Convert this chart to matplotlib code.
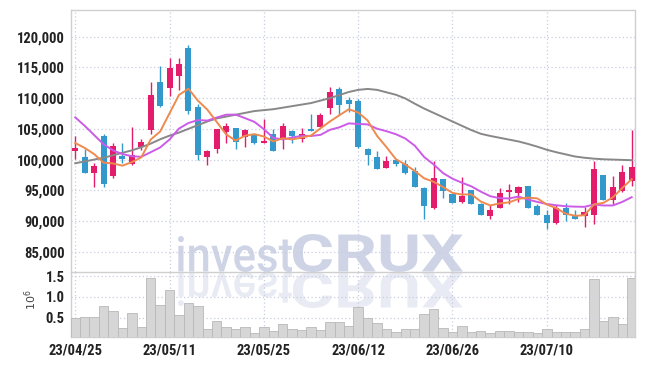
import matplotlib
matplotlib.use("Agg")
import matplotlib.pyplot as plt
from matplotlib.textpath import TextPath
from matplotlib.patches import PathPatch
from matplotlib.font_manager import FontProperties
from matplotlib.transforms import Affine2D, IdentityTransform
from matplotlib.ticker import FuncFormatter

# trading days 2023/04/25 - 2023/07/21
dates = ["23/04/25", "23/04/26", "23/04/27", "23/04/28", "23/05/02", "23/05/03", "23/05/04", "23/05/08",
         "23/05/09", "23/05/10", "23/05/11", "23/05/12", "23/05/15", "23/05/16", "23/05/17", "23/05/18",
         "23/05/19", "23/05/22", "23/05/23", "23/05/24", "23/05/25", "23/05/26", "23/05/30", "23/05/31",
         "23/06/01", "23/06/02", "23/06/05", "23/06/07", "23/06/08", "23/06/09", "23/06/12", "23/06/13",
         "23/06/14", "23/06/15", "23/06/16", "23/06/19", "23/06/20", "23/06/21", "23/06/22", "23/06/23",
         "23/06/26", "23/06/27", "23/06/28", "23/06/29", "23/06/30", "23/07/03", "23/07/04", "23/07/05",
         "23/07/06", "23/07/07", "23/07/10", "23/07/11", "23/07/12", "23/07/13", "23/07/14", "23/07/17",
         "23/07/18", "23/07/19", "23/07/20", "23/07/21"]

opens = [101430, 100400, 97850, 103900, 97350, 100600, 99200, 102100, 104800, 112600,
         111700, 113600, 118150, 108500, 100450, 101750, 104450, 105100, 103600, 104000,
         102700, 104150, 103450, 104700, 103350, 104950, 105350, 108350, 111450, 109700,
         109600, 101700, 100400, 98650, 99900, 99200, 98150, 95400, 92050, 96800,
         94400, 93050, 95000, 92850, 90800, 92150, 94750, 94600, 95700, 92450,
         91050, 89600, 92050, 91050, 90850, 90950, 97500, 93400, 94900, 96550]
highs = [103830, 101800, 99500, 104200, 102650, 102650, 105250, 103300, 112650, 115250,
         116500, 116500, 118650, 109050, 101600, 105000, 105900, 105150, 105000, 104050,
         106550, 105000, 106000, 104800, 105200, 107400, 107600, 111850, 111800, 110150,
         109800, 101950, 101400, 100550, 100050, 99950, 98750, 95500, 99800, 96900,
         94450, 97200, 95100, 92900, 92600, 95300, 95950, 95750, 95750, 92800,
         91750, 92600, 92950, 91750, 92200, 99700, 97550, 97300, 99100, 104800]
lows = [100030, 97800, 95500, 95600, 96950, 99400, 99100, 101550, 104150, 108600,
        110350, 111300, 107500, 99900, 99100, 101100, 102650, 101800, 102100, 102550,
        102650, 101400, 101650, 102650, 102800, 104650, 105300, 107500, 107250, 107800,
        101900, 99100, 98450, 98600, 98950, 97700, 95500, 90250, 91950, 93700,
        92900, 92950, 92700, 91000, 90250, 92100, 92750, 93150, 92100, 91000,
        88650, 89550, 89950, 90350, 88950, 89500, 93350, 92750, 94800, 95700]
closes = [101900, 97850, 98940, 96000, 102200, 100050, 100700, 102850, 110500, 108700,
          114950, 115600, 107950, 100800, 101400, 104900, 105450, 102900, 104800, 102650,
          103000, 101450, 105450, 103850, 104150, 104700, 107250, 111050, 108900, 109050,
          102100, 100750, 98500, 99750, 99200, 97750, 95550, 92500, 96950, 94900,
          93000, 94150, 92750, 91050, 91750, 94600, 95050, 95550, 92150, 91050,
          89600, 92150, 91050, 90400, 91500, 98400, 93400, 95550, 97950, 98750]

# volume in millions
volume = [0.49, 0.52, 0.51, 0.78, 0.66, 0.25, 0.61, 0.27, 1.45, 0.81,
          1.17, 0.56, 0.85, 0.78, 0.23, 0.42, 0.27, 0.23, 0.27, 0.13,
          0.27, 0.18, 0.35, 0.23, 0.20, 0.27, 0.20, 0.40, 0.40, 0.30,
          0.75, 0.49, 0.37, 0.22, 0.16, 0.22, 0.22, 0.59, 0.70, 0.25,
          0.16, 0.29, 0.16, 0.18, 0.13, 0.18, 0.18, 0.16, 0.16, 0.13,
          0.22, 0.16, 0.16, 0.16, 0.22, 1.42, 0.42, 0.51, 0.35, 1.45]

ma5 = [102700, 101900, 100900, 99500, 99380, 99010, 99580, 100360, 103260, 104560,
       107540, 110520, 111540, 109600, 108140, 106130, 104100, 103090, 103890, 104140,
       103760, 102960, 103470, 103280, 103580, 103920, 105080, 106200, 107210, 108190,
       107670, 106370, 103860, 102030, 100060, 99190, 98150, 96950, 96390, 95530,
       94580, 94300, 94350, 93170, 92540, 92860, 93040, 93600, 93820, 93680,
       92680, 92100, 91200, 90850, 90940, 92700, 92950, 93850, 95360, 96810]
ma10 = [106870, 105500, 104000, 102500, 101500, 100900, 100550, 100450, 101200, 101970,
        103270, 105050, 105950, 106430, 106350, 106840, 107310, 107320, 106750, 106140,
        104950, 103530, 103280, 103590, 103860, 103840, 104020, 104840, 105250, 105890,
        105800, 105730, 105030, 104620, 104130, 103430, 102260, 100410, 99210, 97800,
        96890, 96230, 95650, 94780, 94040, 93720, 93670, 93980, 93500, 93110,
        92770, 92570, 92400, 92340, 92310, 92690, 92530, 92530, 93110, 93880]
ma_long = [99400, 99700, 100000, 100300, 100700, 101100, 101500, 102000, 102600, 103300,
           103900, 104400, 105000, 105600, 106200, 106700, 107000, 107300, 107600, 107900,
           108050, 108200, 108450, 108700, 108950, 109200, 109600, 110000, 110500, 111000,
           111350, 111500, 111350, 110950, 110550, 109950, 109100, 108300, 107600, 106900,
           106200, 105500, 104800, 104200, 103850, 103550, 103250, 102950, 102550, 102100,
           101600, 101200, 100850, 100500, 100300, 100150, 100050, 100000, 99950, 99900]

price_ticks = [85000, 90000, 95000, 100000, 105000, 110000, 115000, 120000]
vol_ticks = [0.5, 1.0, 1.5]
label_every = 10

UP = "#e31c6b"
DOWN = "#3399cc"
GRID = "#c9cde0"
FRAME = "#cfcfcf"
TXT = "#222222"
tick_font = ["Roboto Condensed", "Roboto", "DejaVu Sans"]

W, H = 645, 366
fig = plt.figure(figsize=(W / 100, H / 100), dpi=100, facecolor="white")
left, right = 71, 634.5
ax = fig.add_axes([left / W, 1 - 272 / H, (right - left) / W, (272 - 10) / H])
axv = fig.add_axes([left / W, 1 - 337 / H, (right - left) / W, (337 - 272) / H], sharex=ax)
for a in (ax, axv):
    a.set_facecolor("none")

x = list(range(len(dates)))

# candles
for i in x:
    col = UP if closes[i] >= opens[i] else DOWN
    ax.vlines(i, lows[i], highs[i], color=col, lw=1.0, zorder=3)
    lo, hi = min(opens[i], closes[i]), max(opens[i], closes[i])
    ax.bar(i, max(hi - lo, 80), bottom=lo, width=0.64, color=col, zorder=4)

ax.plot(x, ma_long, color="#888888", lw=1.4, zorder=5)
ax.plot(x, ma10, color="#cc5be8", lw=1.4, zorder=5)
ax.plot(x, ma5, color="#ef8a4f", lw=1.4, zorder=6)

ax.set_xlim(-0.45, 59.3)
ax.set_ylim(81700, 124350)
ax.set_yticks(price_ticks)
ax.yaxis.set_major_formatter(FuncFormatter(lambda v, p: f"{v:,.0f}"))

tick_pos = x[::label_every]
ax.set_xticks(tick_pos)
ax.tick_params(axis="x", labelbottom=False, length=0)

axv.bar(x, volume, width=1.0, color="#d6d6d6", edgecolor="#b8b8b8", lw=0.6, zorder=3)
axv.set_ylim(0.03, 1.6)
axv.set_yticks(vol_ticks)
axv.yaxis.set_major_formatter(FuncFormatter(lambda v, p: f"{v:.1f}"))
axv.set_xticklabels([dates[i] for i in tick_pos])

for a in (ax, axv):
    a.grid(True, color=GRID, linestyle=(0, (1, 2)), lw=0.9, zorder=0)
    a.tick_params(axis="y", length=0, pad=4.5, labelsize=10.5, labelcolor=TXT)
    for s in a.spines.values():
        s.set_color(FRAME)
        s.set_linewidth(1.0)
    for lab in a.get_yticklabels():
        lab.set_family(tick_font)
        lab.set_weight("bold")
axv.spines["top"].set_visible(False)
axv.tick_params(axis="x", length=0, pad=5, labelsize=10.5, labelcolor=TXT)
for lab in axv.get_xticklabels():
    lab.set_family(tick_font)
    lab.set_weight("bold")

fig.text(31 / W, 1 - 300 / H, r"$10^6$", rotation=90, fontsize=8, color="#444444",
         ha="center", va="center")


# watermark with reflection
def mark(text, weight, x0, x1, ytop, ybot, alpha, flip=False):
    tp = TextPath((0, 0), text, size=50, prop=FontProperties(family=["Roboto", "DejaVu Sans"], weight=weight))
    ext = tp.get_extents()
    t = Affine2D().translate(-ext.x0, -ext.y0).scale((x1 - x0) / ext.width, (ybot - ytop) / ext.height)
    if flip:
        t = t.scale(1, -1).translate(x0, H - ytop)
    else:
        t = t.translate(x0, H - ybot)
    p = PathPatch(t.transform_path(tp), transform=IdentityTransform(), facecolor="#c6cde2",
                  edgecolor="none", alpha=alpha, zorder=-1)
    fig.add_artist(p)


mark("invest", "medium", 178, 292, 236, 272, 0.85)
mark("CRUX", "bold", 293, 463, 234, 272, 0.85)
mark("invest", "medium", 178, 292, 272, 306, 0.4, flip=True)
mark("CRUX", "bold", 293, 463, 272, 308, 0.4, flip=True)

fig.savefig("out.png", dpi=100, facecolor="white")
